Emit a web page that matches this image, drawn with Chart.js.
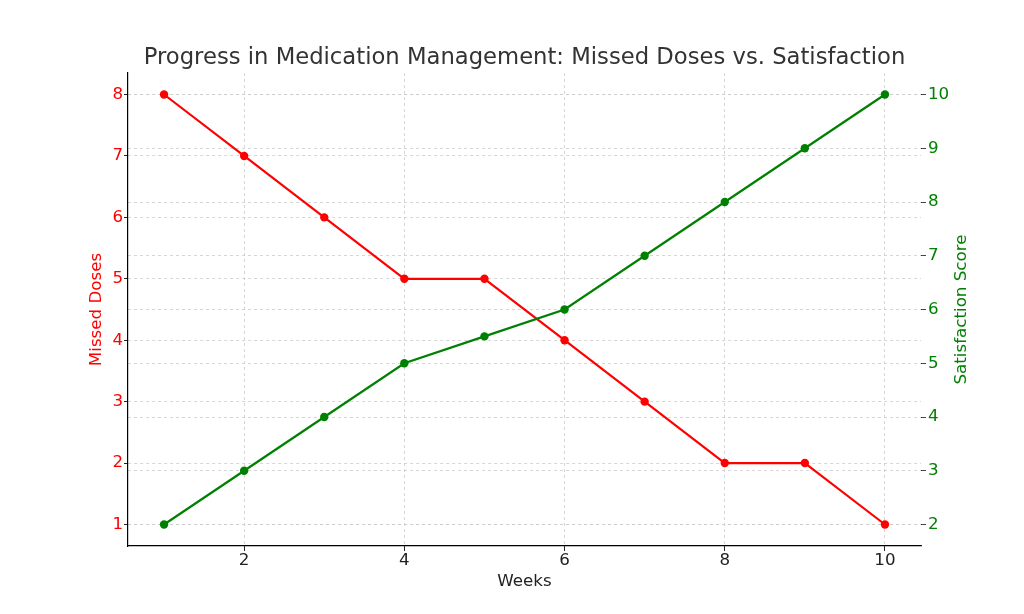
<!DOCTYPE html>
<html>
<head>
<meta charset="utf-8">
<script src="https://cdn.jsdelivr.net/npm/chart.js@4"></script>
<style>
  html, body { margin: 0; padding: 0; background: #fff; }
  #medChart { display: block; }
</style>
</head>
<body>
<canvas id="medChart" width="1024" height="614"></canvas>
<script>
const weeks = [1, 2, 3, 4, 5, 6, 7, 8, 9, 10];
const missedDoses = [8, 7, 6, 5, 5, 4, 3, 2, 2, 1];
const satisfaction = [2, 3, 4, 5, 5.5, 6, 7, 8, 9, 10];

const weekTicks = [2, 4, 6, 8, 10];
const missedTicks = [1, 2, 3, 4, 5, 6, 7, 8];
const satisfactionTicks = [2, 3, 4, 5, 6, 7, 8, 9, 10];

const chartTitle = 'Progress in Medication Management: Missed Doses vs. Satisfaction';
const rightTitle = 'Satisfaction Score';

const RED = '#ff0000';
const GREEN = '#008000';
const GRID = '#cccccc';
const FONT = 'DejaVu Sans';

const setTicks = (values) => (scale) => {
    scale.ticks = values.map(v => ({ value: v }));
};

// title centred over the plot, and the right-hand axis title read bottom to top
const extraText = {
    id: 'extraText',
    afterDraw(chart) {
        const { ctx, chartArea } = chart;
        ctx.save();
        ctx.textAlign = 'center';
        ctx.textBaseline = 'middle';
        ctx.fillStyle = '#333333';
        ctx.font = '22.7px "' + FONT + '"';
        ctx.fillText(chartTitle, (chartArea.left + chartArea.right) / 2, 58);

        ctx.translate(962, (chartArea.top + chartArea.bottom) / 2);
        ctx.rotate(-Math.PI / 2);
        ctx.fillStyle = GREEN;
        ctx.font = '16.7px "' + FONT + '"';
        ctx.fillText(rightTitle, 0, 0);
        ctx.restore();
    }
};

const ctx = document.getElementById('medChart').getContext('2d');
const medChart = new Chart(ctx, {
    type: 'line',
    data: {
        datasets: [{
            label: 'Missed Doses',
            data: weeks.map((w, i) => ({ x: w, y: missedDoses[i] })),
            yAxisID: 'yMissed',
            borderColor: RED,
            backgroundColor: RED,
            borderWidth: 2.2,
            pointRadius: 4.2,
            pointBorderWidth: 0,
            tension: 0,
            order: 1
        }, {
            label: 'Satisfaction Score',
            data: weeks.map((w, i) => ({ x: w, y: satisfaction[i] })),
            yAxisID: 'ySat',
            borderColor: GREEN,
            backgroundColor: GREEN,
            borderWidth: 2.2,
            pointRadius: 4.2,
            pointBorderWidth: 0,
            tension: 0,
            order: 0
        }]
    },
    plugins: [extraText],
    options: {
        responsive: false,
        animation: false,
        layout: { padding: { top: 73, left: 0, right: 0, bottom: 0 } },
        plugins: {
            legend: { display: false },
            tooltip: { enabled: false },
            title: { display: false }
        },
        scales: {
            x: {
                type: 'linear',
                position: 'bottom',
                min: 0.55,
                max: 10.45,
                afterBuildTicks: setTicks(weekTicks),
                afterFit: (scale) => { scale.height = 68; },
                grid: {
                    color: GRID,
                    lineWidth: 0.8,
                    tickColor: '#222222',
                    tickLength: 5,
                    tickWidth: 1
                },
                border: { display: true, color: '#000000', width: 1.2, dash: [3, 3] },
                ticks: {
                    color: '#222222',
                    font: { family: FONT, size: 16.7 },
                    padding: 0,
                    maxRotation: 0
                },
                title: {
                    display: true,
                    text: 'Weeks',
                    color: '#222222',
                    font: { family: FONT, size: 16.7 },
                    padding: { top: 0, bottom: 22 }
                }
            },
            yMissed: {
                type: 'linear',
                position: 'left',
                min: 0.65,
                max: 8.35,
                afterBuildTicks: setTicks(missedTicks),
                afterFit: (scale) => { scale.width = 128; },
                grid: {
                    color: GRID,
                    lineWidth: 0.8,
                    tickColor: '#222222',
                    tickLength: 4,
                    tickWidth: 1
                },
                border: { display: true, color: '#000000', width: 1.2, dash: [3, 3] },
                ticks: {
                    color: RED,
                    font: { family: FONT, size: 16.7 },
                    padding: 1
                },
                title: {
                    display: true,
                    text: 'Missed Doses',
                    color: RED,
                    font: { family: FONT, size: 16.7 },
                    padding: { top: 87, bottom: 0 }
                }
            },
            ySat: {
                type: 'linear',
                position: 'right',
                min: 1.6,
                max: 10.4,
                afterBuildTicks: setTicks(satisfactionTicks),
                afterFit: (scale) => { scale.width = 103; },
                grid: {
                    color: GRID,
                    lineWidth: 0.8,
                    tickColor: '#444444',
                    tickLength: 5,
                    tickWidth: 1
                },
                border: { display: false, dash: [3, 3] },
                ticks: {
                    color: GREEN,
                    font: { family: FONT, size: 16.7 },
                    padding: 2
                },
                title: { display: false }
            }
        }
    }
});
</script>
</body>
</html>
